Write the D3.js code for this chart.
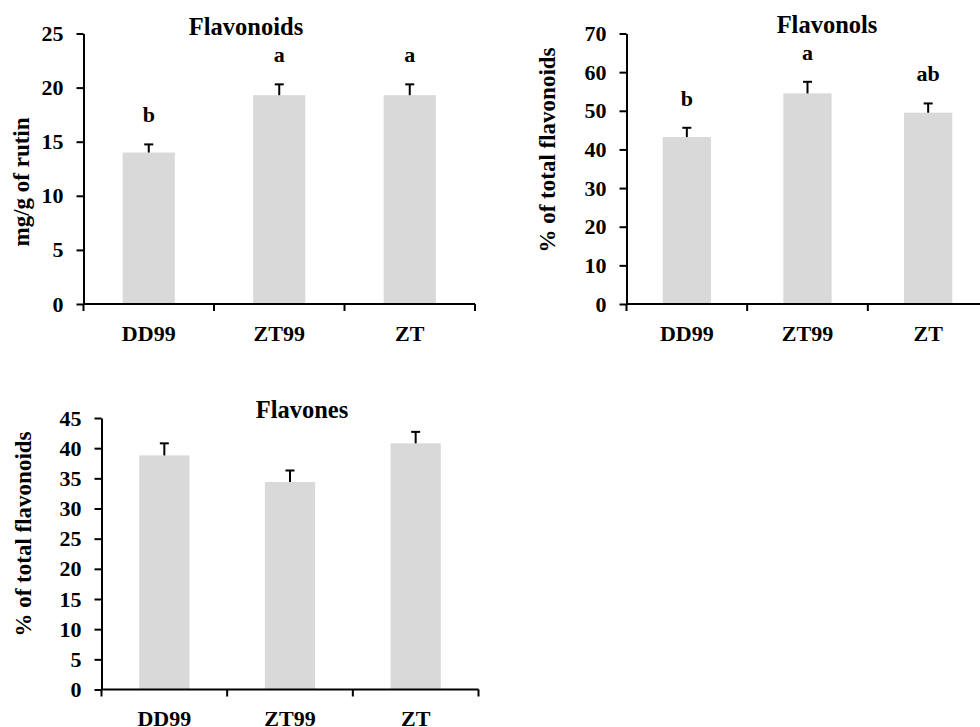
<!DOCTYPE html>
<html>
<head>
<meta charset="utf-8">
<script src="https://cdn.jsdelivr.net/npm/d3@7"></script>
<style>
  body { margin: 0; background: #fff; }
  text { font-family: "Liberation Serif", "Times New Roman", serif; font-weight: bold; fill: #000; }
</style>
</head>
<body>
<svg width="980" height="727"></svg>
<script>
const width = 980
const height = 727

// data
const categories = ["DD99", "ZT99", "ZT"]

const flavonoidValues = [14.0, 19.3, 19.3]
const flavonoidErrors = [0.75, 1.0, 1.0]
const flavonoidLetters = ["b", "a", "a"]
const flavonoidTicks = [0, 5, 10, 15, 20, 25]

const flavonolValues = [43.2, 54.5, 49.5]
const flavonolErrors = [2.4, 3.0, 2.4]
const flavonolLetters = ["b", "a", "ab"]
const flavonolTicks = [0, 10, 20, 30, 40, 50, 60, 70]

const flavoneValues = [38.8, 34.4, 40.8]
const flavoneErrors = [2.0, 1.9, 1.9]
const flavoneLetters = ["", "", ""]
const flavoneTicks = [0, 5, 10, 15, 20, 25, 30, 35, 40, 45]

const barColor = "#d9d9d9"

const svg = d3.select("svg")
    .attr("width", width)
    .attr("height", height)

function drawPanel(p) {
    const data = categories.map((c, i) => ({cat: c, value: p.values[i], err: p.errors[i], letter: p.letters[i]}))

    const x = d3.scaleBand()
        .domain(categories)
        .range([p.left, p.right])
        .paddingInner(0.6)
        .paddingOuter(0.3)

    const y = d3.scaleLinear()
        .domain([0, d3.max(p.ticks)])
        .range([p.bottom, p.top])

    const g = svg.append("g")

    // bars
    g.selectAll("rect.bar")
        .data(data)
        .join("rect")
        .attr("class", "bar")
        .attr("x", d => x(d.cat))
        .attr("y", d => y(d.value))
        .attr("width", x.bandwidth())
        .attr("height", d => y(0) - y(d.value))
        .attr("fill", barColor)

    // error bars (plus only)
    const eb = g.selectAll("g.err")
        .data(data)
        .join("g")
        .attr("class", "err")
        .attr("stroke", "#000")
        .attr("stroke-width", 2)
    eb.append("line")
        .attr("x1", d => x(d.cat) + x.bandwidth() / 2)
        .attr("x2", d => x(d.cat) + x.bandwidth() / 2)
        .attr("y1", d => y(d.value))
        .attr("y2", d => y(d.value + d.err))
    eb.append("line")
        .attr("x1", d => x(d.cat) + x.bandwidth() / 2 - 4.5)
        .attr("x2", d => x(d.cat) + x.bandwidth() / 2 + 4.5)
        .attr("y1", d => y(d.value + d.err))
        .attr("y2", d => y(d.value + d.err))

    // significance letters
    g.selectAll("text.letter")
        .data(data.filter(d => d.letter))
        .join("text")
        .attr("class", "letter")
        .attr("x", d => x(d.cat) + x.bandwidth() / 2)
        .attr("y", d => y(d.value + d.err) - 22)
        .attr("text-anchor", "middle")
        .attr("font-size", "22px")
        .text(d => d.letter)

    // y axis
    const yAxis = g.append("g")
        .attr("transform", `translate(${p.left},0)`)
        .call(d3.axisLeft(y).tickValues(p.ticks).tickSize(7).tickSizeOuter(0).tickPadding(13))
    yAxis.selectAll("path, line").attr("stroke", "#000").attr("stroke-width", 2)
    yAxis.selectAll("text")
        .attr("font-family", null)
        .attr("font-size", "22px")

    // x axis, labels in the middle of each category
    const xAxis = g.append("g")
        .attr("transform", `translate(0,${p.bottom})`)
        .call(d3.axisBottom(x).tickSize(0).tickSizeOuter(0).tickPadding(21))
    xAxis.select("path")
        .attr("d", `M${p.left},0H${p.right}`)
        .attr("stroke", "#000")
        .attr("stroke-width", 2)
    xAxis.selectAll("text")
        .attr("font-family", null)
        .attr("font-size", "22px")

    // category boundary ticks
    xAxis.selectAll("line.bound")
        .data(d3.range(categories.length + 1))
        .join("line")
        .attr("class", "bound")
        .attr("x1", i => p.left + i * x.step())
        .attr("x2", i => p.left + i * x.step())
        .attr("y1", 0)
        .attr("y2", 7)
        .attr("stroke", "#000")
        .attr("stroke-width", 2)

    // title
    g.append("text")
        .attr("x", p.titleX)
        .attr("y", p.titleY)
        .attr("text-anchor", "middle")
        .attr("font-size", "24.5px")
        .text(p.title)

    // y label
    g.append("text")
        .attr("transform", `translate(${p.labelX},${p.labelY}) rotate(-90)`)
        .attr("text-anchor", "middle")
        .attr("font-size", "23px")
        .text(p.yLabel)
}

drawPanel({
    values: flavonoidValues, errors: flavonoidErrors, letters: flavonoidLetters, ticks: flavonoidTicks,
    left: 83.5, right: 475, top: 33.5, bottom: 304,
    title: "Flavonoids", titleX: 246, titleY: 35,
    yLabel: "mg/g of rutin", labelX: 29, labelY: 182
})

drawPanel({
    values: flavonolValues, errors: flavonolErrors, letters: flavonolLetters, ticks: flavonolTicks,
    left: 626.5, right: 988.5, top: 33.5, bottom: 304,
    title: "Flavonols", titleX: 827, titleY: 33,
    yLabel: "% of total flavonoids", labelX: 555, labelY: 150
})

drawPanel({
    values: flavoneValues, errors: flavoneErrors, letters: flavoneLetters, ticks: flavoneTicks,
    left: 101.5, right: 478.5, top: 418, bottom: 689.5,
    title: "Flavones", titleX: 302, titleY: 418,
    yLabel: "% of total flavonoids", labelX: 31, labelY: 534
})
</script>
</body>
</html>
